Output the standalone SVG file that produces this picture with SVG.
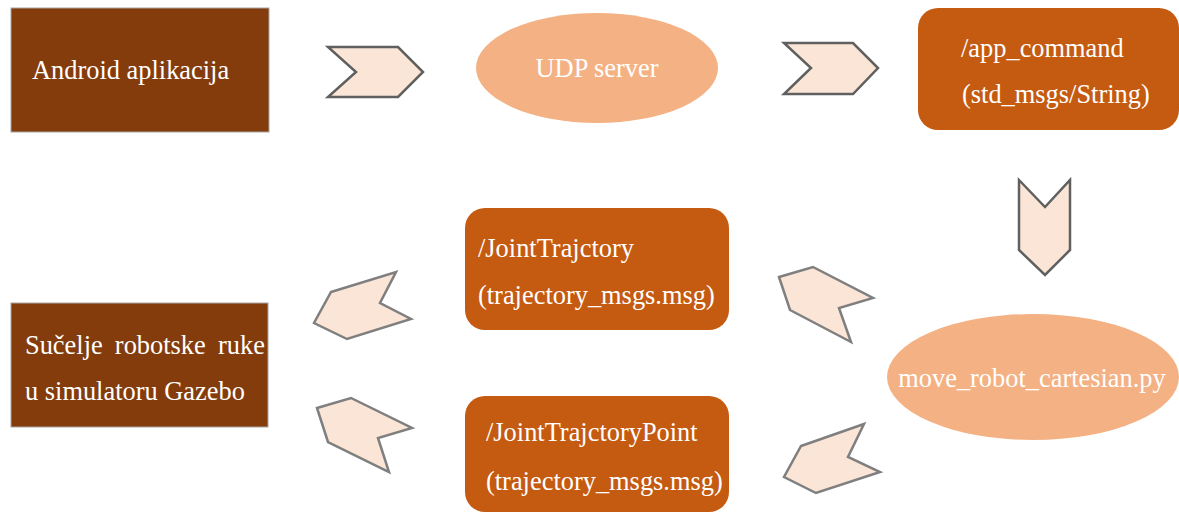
<svg xmlns="http://www.w3.org/2000/svg" width="1179" height="513" viewBox="0 0 1179 513">
<style>
.t{font-family:"Liberation Serif","Times New Roman",serif;font-size:26.4px;fill:#ffffff}
.dark{fill:#843c0c;stroke:#a6a6a6;stroke-width:1}
.org{fill:#c55a11}
.ell{fill:#f4b183}
.chev{fill:#fbe5d6;stroke:#606060;stroke-width:2.5;stroke-linejoin:miter}
.chev2{fill:#fbe5d6;stroke:#7f7f7f;stroke-width:2.5;stroke-linejoin:miter}
</style>
<rect width="1179" height="513" fill="#ffffff"/>
<g id="android">
<rect class="dark" x="11" y="8" width="258" height="124"/>
<text class="t" x="32" y="79">Android aplikacija</text>
</g>
<g id="udp">
<ellipse class="ell" cx="597" cy="68" rx="121" ry="55"/>
<text class="t" x="597" y="77" text-anchor="middle">UDP server</text>
</g>
<g id="app_command">
<rect class="org" x="918" y="8" width="261" height="122" rx="20"/>
<text class="t" x="961" y="57">/app_command</text>
<text class="t" x="962" y="103">(std_msgs/String)</text>
</g>
<g id="move_robot">
<ellipse class="ell" cx="1033" cy="377" rx="146" ry="63"/>
<text class="t" x="1032" y="387" text-anchor="middle">move_robot_cartesian.py</text>
</g>
<g id="joint_trajectory">
<rect class="org" x="465" y="208" width="264" height="122" rx="20"/>
<text class="t" x="478" y="257">/JointTrajctory</text>
<text class="t" x="478" y="304">(trajectory_msgs.msg)</text>
</g>
<g id="joint_trajectory_point">
<rect class="org" x="465" y="396" width="264" height="116" rx="20"/>
<text class="t" x="486" y="441">/JointTrajctoryPoint</text>
<text class="t" x="486" y="490">(trajectory_msgs.msg)</text>
</g>
<g id="gazebo">
<rect class="dark" x="11" y="303" width="257" height="124"/>
<text class="t" x="25" y="354" word-spacing="5.6">Sučelje robotske ruke</text>
<text class="t" x="25" y="400">u simulatoru Gazebo</text>
</g>
<g id="connectors">
<polygon class="chev" points="328,47 398,47 423,72 398,97 328,97 356,72"/>
<polygon class="chev" points="784,43 853,43 878,68 853,94 784,94 811,68"/>
<polygon class="chev" points="1019,180 1045,207 1070,180 1070,250 1045,275 1019,250"/>
<polygon class="chev2" points="779,277 813,267 873,298 839,308 851,342 790,310"/>
<polygon class="chev2" points="801,446 864,424 848,457 880,472 816,493 784,477"/>
<polygon class="chev2" points="331,292 396,272 380,303 411,319 347,339 314,323"/>
<polygon class="chev2" points="317,408 351,398 412,428 378,438 389,472 328,442"/>
</g>
</svg>
